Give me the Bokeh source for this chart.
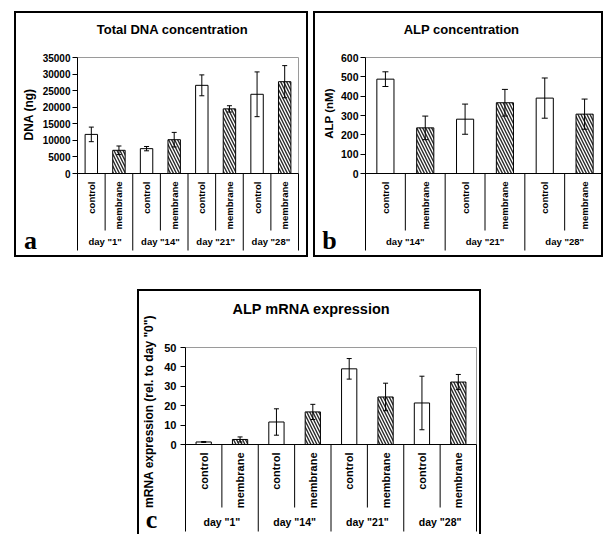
import math
from bokeh.plotting import figure
from bokeh.models import (Range1d, FixedTicker, ColumnDataSource, Whisker, TeeHead)
from bokeh.layouts import row, column
from bokeh.embed import file_html
from bokeh.resources import INLINE
from bokeh.core.properties import value

# ---------------- data ----------------
treatments = ["control", "membrane"]

dna_days = ['day "1"', 'day "14"', 'day "21"', 'day "28"']
dna_mean = [11800, 7000, 7500, 10200, 26600, 19500, 23900, 27700]
dna_err = [2200, 1300, 650, 2200, 3150, 950, 6750, 4850]
dna_ticks = [0, 5000, 10000, 15000, 20000, 25000, 30000, 35000]

alp_days = ['day "14"', 'day "21"', 'day "28"']
alp_mean = [488, 236, 281, 366, 390, 307]
alp_err = [38, 61, 78, 69, 104, 78]
alp_ticks = [0, 100, 200, 300, 400, 500, 600]

mrna_days = ['day "1"', 'day "14"', 'day "21"', 'day "28"']
mrna_mean = [1.3, 2.6, 11.6, 16.8, 39.0, 24.5, 21.4, 32.2]
mrna_err = [0.2, 1.3, 6.8, 3.9, 5.3, 7.1, 13.8, 3.9]
mrna_ticks = [0, 10, 20, 30, 40, 50]

FONT = "Liberation Sans"
SERIF = "Liberation Serif"


def build(title, ylabel, letter, days, means, errs, ticks, g):
    treat = [t for d in days for t in treatments]
    n = len(treat)
    ymax = ticks[-1]
    W, H = g["W"], g["H"]
    ppf = (g["plot_right"] - g["plot_left"]) / n
    upp = ymax / (g["zero"] - g["plot_top"])

    def X(px):
        return (px - g["plot_left"]) / ppf

    def Y(px):
        return (g["zero"] - px) * upp

    p = figure(width=W, height=H,
               x_range=Range1d(X(0), X(W)), y_range=Range1d(Y(H), Y(0)),
               output_backend="svg", toolbar_location=None, min_border=0,
               margin=g["margin"], styles=g["styles"])
    p.background_fill_color = "white"
    p.border_fill_color = "white"
    p.outline_line_color = None
    p.xgrid.visible = False
    p.ygrid.visible = False
    p.xaxis.visible = False

    ax = p.yaxis[0]
    ax.fixed_location = 0
    ax.bounds = (Y(g["zero"] + g["sep_long"]), ymax)
    ax.ticker = FixedTicker(ticks=ticks)
    ax.major_label_text_font = FONT
    ax.major_label_text_font_style = "bold"
    ax.major_label_text_font_size = g["tick_fs"]
    ax.major_label_text_color = "black"
    ax.major_tick_out = 5
    ax.major_tick_in = 0
    ax.minor_tick_out = 0
    ax.minor_tick_in = 0
    ax.major_label_standoff = g["standoff"]
    ax.axis_line_color = "black"
    ax.major_tick_line_color = "black"

    xs = [i + 0.5 for i in range(n)]
    hatch = [" " if t == "control" else "\\" for t in treat]
    src = ColumnDataSource(dict(
        x=xs, top=means, treat=treat, hatch=hatch,
        upper=[m + e for m, e in zip(means, errs)],
        lower=[m - e for m, e in zip(means, errs)],
        ly=[Y(g["zero"] + g["cat_off"])] * n,
    ))

    # grey plot-area border (top, right)
    p.segment(x0=[0, n], y0=[ymax, 0], x1=[n, n], y1=[ymax, ymax],
              line_color="#9a9a9a", line_width=1)
    # separators below the x axis
    sep_x = list(range(1, n + 1))
    sep_y = [Y(g["zero"] + (g["sep_short"] if i % 2 == 1 else g["sep_long"]))
             for i in range(1, n + 1)]
    p.segment(x0=sep_x, y0=[0] * n, x1=sep_x, y1=sep_y,
              line_color="black", line_width=1)

    p.vbar(x="x", top="top", width=g["bar_w"], source=src,
           fill_color="white", line_color="black", line_width=1,
           hatch_pattern="hatch", hatch_color="#2a2a2a",
           hatch_scale=g["hatch_scale"], hatch_weight=1.4)

    # x axis line at zero
    p.segment(x0=[0], y0=[0], x1=[n], y1=[0], line_color="black", line_width=1)

    w = Whisker(source=src, base="x", upper="upper", lower="lower",
                dimension="height", line_color="black", line_width=1,
                upper_head=TeeHead(size=g["cap"], line_color="black", line_width=1),
                lower_head=TeeHead(size=g["cap"], line_color="black", line_width=1))
    w.level = "overlay"
    p.add_layout(w)

    # category labels (rotated) and group labels
    p.text(x="x", y="ly", text="treat", angle=math.pi / 2, source=src,
           text_align="right", text_baseline="middle",
           text_font=value(FONT), text_font_style="bold",
           text_font_size=g["cat_fs"], text_color="black")
    gx = [2 * k + 1 for k in range(len(days))]
    p.text(x=gx, y=[Y(g["group_y"])] * len(days), text=days,
           text_align="center", text_baseline="middle",
           text_font=value(FONT), text_font_style="bold",
           text_font_size=g["group_fs"], text_color="black")

    tx, ty = g["title_pos"]
    p.text(x=[X(tx)], y=[Y(ty)], text=[title], text_align="center",
           text_baseline="middle", text_font=value(FONT), text_font_style="bold",
           text_font_size=g["title_fs"], text_color="black")
    lx, ly = g["ylabel_pos"]
    p.text(x=[X(lx)], y=[Y(ly)], text=[ylabel], angle=math.pi / 2,
           text_align="center", text_baseline="middle", text_font=value(FONT),
           text_font_style="bold", text_font_size=g["ylabel_fs"],
           text_color="black")
    cx, cy = g["letter_pos"]
    p.text(x=[X(cx)], y=[Y(cy)], text=[letter], text_align="center",
           text_baseline="middle", text_font=value(SERIF),
           text_font_style="bold", text_font_size="26px", text_color="black")
    return p


BOX = {"border": "2px solid black"}
BOX_OPEN = {"border": "2px solid black", "border-bottom": "none"}

ga = dict(W=294, H=246, plot_left=61, plot_right=282, plot_top=44, zero=160,
          sep_short=57, sep_long=77, cat_off=8, group_y=228, bar_w=0.45,
          cap=5, hatch_scale=6, tick_fs="10px", cat_fs="9.5px", group_fs="9.5px",
          title_fs="13px", ylabel_fs="12px", standoff=2, title_pos=(156, 16),
          ylabel_pos=(12, 101), letter_pos=(14, 227), margin=(11, 0, 0, 14),
          styles=BOX)
gb = dict(W=290, H=246, plot_left=50, plot_right=289, plot_top=44, zero=160,
          sep_short=57, sep_long=77, cat_off=8, group_y=228, bar_w=0.43,
          cap=6, hatch_scale=6, tick_fs="10.5px", cat_fs="9.5px", group_fs="9.5px",
          title_fs="13px", ylabel_fs="11.5px", standoff=2, title_pos=(146, 16),
          ylabel_pos=(13, 100), letter_pos=(14, 227), margin=(11, 0, 0, 5),
          styles=BOX)
gc = dict(W=344, H=245, plot_left=46, plot_right=337, plot_top=56, zero=153,
          sep_short=63, sep_long=87, cat_off=8, group_y=230, bar_w=0.42,
          cap=5, hatch_scale=6, tick_fs="11px", cat_fs="11px", group_fs="10.5px",
          title_fs="14.5px", ylabel_fs="12px", standoff=4, title_pos=(172, 17),
          ylabel_pos=(9, 120), letter_pos=(12, 228), margin=(32, 0, 0, 137),
          styles=BOX_OPEN)

pa = build("Total DNA concentration", "DNA (ng)", "a",
           dna_days, dna_mean, dna_err, dna_ticks, ga)
pb = build("ALP concentration", "ALP (nM)", "b",
           alp_days, alp_mean, alp_err, alp_ticks, gb)
pc = build("ALP mRNA expression", 'mRNA expression (rel. to day "0")', "c",
           mrna_days, mrna_mean, mrna_err, mrna_ticks, gc)

layout = column(row(pa, pb), pc)
open("out.html", "w").write(file_html(layout, INLINE))
